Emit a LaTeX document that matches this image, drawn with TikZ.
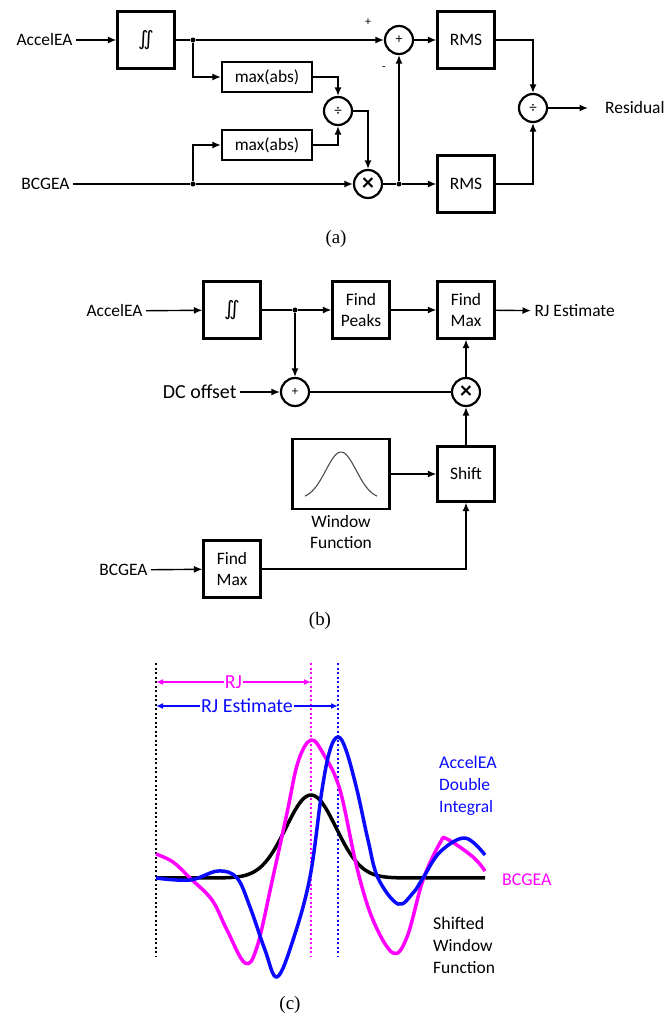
\documentclass[tikz,border=0pt]{standalone}
\usepackage{amsmath}
\usepackage{fontspec}
\setmainfont{Carlito}
\newfontfamily\capfont{Liberation Serif}
\newfontfamily\symfont{DejaVu Sans}
\usetikzlibrary{arrows.meta,shapes}
\definecolor{bcgpink}{RGB}{255,0,255}
\definecolor{accblue}{RGB}{10,10,255}

\begin{document}
\begin{tikzpicture}[
  block/.style={draw,line width=2.2bp,minimum width=57bp,minimum height=57bp,inner sep=0pt,align=center},
  wide/.style={draw,line width=2.2bp,minimum width=90bp,minimum height=30bp,inner sep=0pt},
  sumnode/.style={draw,circle,line width=2.2bp,minimum size=28bp,inner sep=0pt},
  jdot/.style={circle,fill,inner sep=0pt,minimum size=5bp},
  wire/.style={line width=1.4bp},
  sig/.style={wire,-{Latex[length=8.5bp,width=7bp]}},
  dimline/.style={line width=1.4bp,{Latex[length=7bp,width=6bp]}-{Latex[length=7bp,width=6bp]}},
  vdots/.style={line width=2.5bp,dash pattern=on 2.3bp off 2.2bp},
  curve/.style={line width=3.5bp,line join=round},
  font=\fontsize{17.5}{22}\selectfont
]
\useasboundingbox (0bp,0bp) rectangle (665bp,-1019bp);

\node (inA) at (76bp,-40bp)[anchor=east] {AccelEA};
\node (intA) at (146bp,-40bp)[block] {\symfont\fontsize{20}{20}\selectfont ∬};
\node (jA1) at (193bp,-40bp)[jdot] {};
\node (maxA1) at (267bp,-77bp)[wide] {max(abs)};
\node (maxA2) at (267bp,-145bp)[wide] {max(abs)};
\node (inB) at (73bp,-184bp)[anchor=east] {BCGEA};
\node (jA2) at (193bp,-184bp)[jdot] {};
\node (divA1) at (338bp,-111bp)[sumnode] {\fontsize{15}{15}\selectfont ÷};
\node (mulA) at (368bp,-184bp)[sumnode] {\bfseries\fontsize{24}{24}\selectfont ×};
\node (jA3) at (399bp,-184bp)[jdot] {};
\node (sumA) at (399bp,-40bp)[sumnode] {\fontsize{14}{14}\selectfont+};
\node (rmsA1) at (466bp,-40bp)[block] {RMS};
\node (rmsA2) at (466bp,-184bp)[block] {RMS};
\node (divA2) at (533bp,-108bp)[sumnode] {\fontsize{15}{15}\selectfont ÷};
\node (outA) at (588bp,-108bp)[anchor=west,inner xsep=17bp,inner ysep=0pt] {Residual};
\node (plusA) at (368bp,-22bp) {\fontsize{12}{12}\selectfont+};
\node (minusA) at (384bp,-69bp) {\fontsize{12}{12}\selectfont-};
\node (capA) at (336bp,-239bp) {\capfont\fontsize{19}{19}\selectfont(a)};

\draw [sig] (inA) -- (intA);
\draw [wire] (intA) -- (jA1);
\draw [sig] (jA1) -- (sumA);
\draw [sig] (jA1) |- (maxA1);
\draw [sig] (maxA1) -| (divA1);
\draw [sig] (maxA2) -| (divA1);
\draw [wire] (inB) -- (jA2);
\draw [sig] (jA2) |- (maxA2);
\draw [sig] (jA2) -- (mulA);
\draw [sig] (divA1) -| (mulA);
\draw [wire] (mulA) -- (jA3);
\draw [sig] (jA3) -- (sumA);
\draw [sig] (jA3) -- (rmsA2);
\draw [sig] (sumA) -- (rmsA1);
\draw [sig] (rmsA1) -| (divA2);
\draw [sig] (rmsA2) -| (divA2);
\draw [sig] (divA2) -- (outA);

\node (inC) at (146bp,-311bp)[anchor=east] {AccelEA};
\node (intB) at (232bp,-310bp)[block] {\symfont\fontsize{20}{20}\selectfont ∬};
\node (jB1) at (295bp,-310bp)[jdot] {};
\node (peaks) at (361bp,-310bp)[block] {Find\\Peaks};
\node (maxB1) at (466bp,-310bp)[block] {Find\\Max};
\node (outB) at (531bp,-311bp)[anchor=west] {RJ Estimate};
\node (dc) at (240bp,-392bp)[anchor=east] {\fontsize{20}{22}\selectfont DC offset};
\node (sumB) at (295bp,-392bp)[sumnode] {\fontsize{13}{13}\selectfont+};
\node (mulB) at (466bp,-392bp)[sumnode] {\bfseries\fontsize{24}{24}\selectfont ×};
\node (win) at (341bp,-474bp)[draw,line width=2.2bp,minimum width=97bp,minimum height=70bp] {};
\node (winlbl) at (341bp,-532bp)[align=center,inner sep=0pt] {Window\\Function};
\node (shift) at (466bp,-474bp)[block,minimum height=55bp] {Shift};
\node (inD) at (151bp,-570bp)[anchor=east] {BCGEA};
\node (maxB2) at (232bp,-569bp)[block] {Find\\Max};
\node (capB) at (320bp,-621bp) {\capfont\fontsize{19}{19}\selectfont(b)};
\draw [line width=1.1bp,black!70,shift={(win.center)}] plot[domain=-36:36,samples=50,smooth] (\x bp,{(47*exp(-(\x/21.6)^2)-25)*1bp});

\draw [sig] (inC) -- (intB);
\draw [wire] (intB) -- (jB1);
\draw [sig] (jB1) -- (peaks);
\draw [sig] (peaks) -- (maxB1);
\draw [sig] (maxB1) -- (outB);
\draw [sig] (jB1) -- (sumB);
\draw [sig] (dc) -- (sumB);
\draw [wire] (sumB) -- (mulB);
\draw [sig] (mulB) -- (maxB1);
\draw [sig] (win) -- (shift);
\draw [sig] (shift) -- (mulB);
\draw [sig] (inD) -- (maxB2);
\draw [sig] (maxB2) -| (shift);

\coordinate (t0) at (156bp,-663bp);
\coordinate (b0) at (156bp,-957bp);
\coordinate (t1) at (311bp,-663bp);
\coordinate (b1) at (311bp,-957bp);
\coordinate (t2) at (338bp,-663bp);
\coordinate (b2) at (338bp,-957bp);
\coordinate (rj0) at (156bp,-682bp);
\coordinate (rj1) at (311bp,-682bp);
\coordinate (re0) at (156bp,-706bp);
\coordinate (re1) at (338bp,-706bp);
\draw [vdots,black] (t0) -- (b0);
\draw [vdots,bcgpink] (t1) -- (b1);
\draw [vdots,accblue] (t2) -- (b2);
\draw [dimline,bcgpink] (rj0) to node[fill=white,inner sep=1bp,text=bcgpink] {\fontsize{20}{22}\selectfont RJ} (rj1);
\draw [dimline,accblue] (re0) to node[fill=white,inner sep=1bp,text=accblue] {\fontsize{20}{22}\selectfont RJ Estimate} (re1);

\draw [curve,black] plot[domain=156:485,samples=150] (\x bp,{(83*exp(-((\x-311)/35.4)^2)-878)*1bp});
\draw [curve,bcgpink] plot[smooth,tension=0.6] coordinates {(156bp,-854bp) (173bp,-862bp) (190bp,-878bp) (212bp,-900bp) (227bp,-930bp) (245bp,-963bp) (257bp,-947bp) (273bp,-877bp) (287bp,-813bp) (298bp,-762bp) (311bp,-740bp) (324bp,-755bp) (340bp,-790bp) (357bp,-868bp) (373bp,-920bp) (393bp,-953bp) (407bp,-937bp) (423bp,-880bp) (440bp,-843bp) (447bp,-839bp) (473bp,-857bp) (485bp,-871bp)};
\draw [curve,accblue] plot[smooth,tension=0.6] coordinates {(156bp,-878bp) (190bp,-880bp) (218bp,-871bp) (237bp,-878bp) (250bp,-907bp) (265bp,-950bp) (277bp,-977bp) (293bp,-940bp) (310bp,-877bp) (322bp,-790bp) (330bp,-750bp) (338bp,-737bp) (346bp,-750bp) (357bp,-790bp) (368bp,-840bp) (378bp,-878bp) (398bp,-904bp) (413bp,-893bp) (423bp,-878bp) (440bp,-852bp) (465bp,-838bp) (485bp,-855bp)};

\node (lblAcc) at (439bp,-786bp)[anchor=west,align=left,inner sep=0pt,text=accblue] {\fontsize{18}{21}\selectfont AccelEA\\Double\\Integral};
\node (lblBcg) at (502bp,-880bp)[anchor=west,inner sep=0pt,text=bcgpink] {\fontsize{18}{21}\selectfont BCGEA};
\node (lblWin) at (433bp,-945bp)[anchor=west,align=left,inner sep=0pt] {\fontsize{18}{22}\selectfont Shifted\\Window\\Function};
\node (capC) at (290bp,-1005bp) {\capfont\fontsize{19}{19}\selectfont(c)};
\end{tikzpicture}
\end{document}
